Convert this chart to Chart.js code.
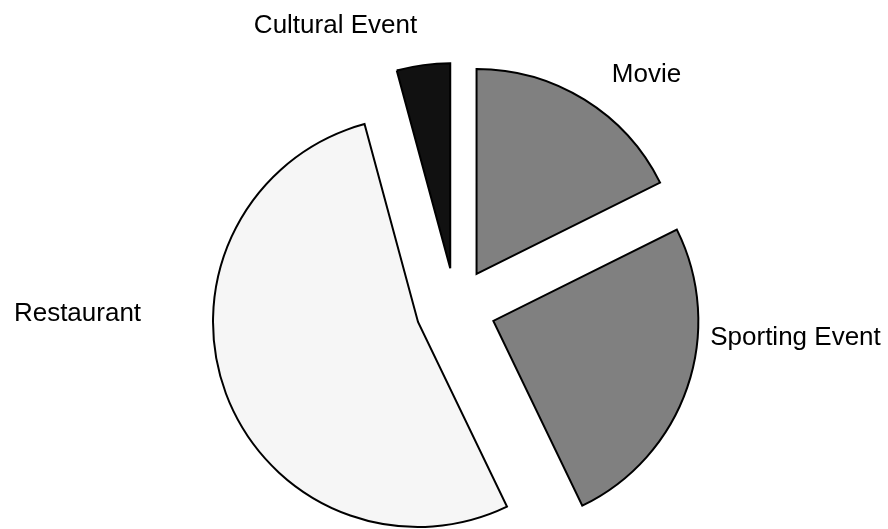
<!DOCTYPE html>
<html>
<head>
<meta charset="utf-8">
<title>Outing choices</title>
<script src="https://cdn.jsdelivr.net/npm/chart.js@4/dist/chart.umd.min.js"></script>
<style>
  html, body { margin: 0; padding: 0; background: #ffffff; }
  #wrap { width: 888px; height: 529px; }
</style>
</head>
<body>
<div id="wrap"><canvas id="pie" width="888" height="529"></canvas></div>
<script>
// Categories and how many people picked each one
const categories = ['Movie', 'Sporting Event', 'Restaurant', 'Cultural Event'];
const picks = [42, 60, 126, 10];
const sliceColors = ['#808080', '#808080', '#f6f6f6', '#111111'];

const PIE_RADIUS = 205;   // drawn radius of every slice
const EXPLODE = 40;       // how far each slice is pulled away from the centre

// Chart.js shifts an arc by offset / 4, but it also grows the arc's radius by
// (offset / 4) * (1 - sin(angle)) and trims its angle to match. Undo both so
// every slice keeps the same radius and its true share of the circle.
const evenRadius = {
  id: 'evenRadius',
  afterDatasetUpdate(chart, args) {
    args.meta.data.forEach(arc => {
      const fix = 1 - Math.sin(Math.min(Math.PI, arc.circumference || 0));
      const grow = EXPLODE * fix;
      arc.outerRadius = PIE_RADIUS - grow;
      const trim = grow / (2 * Math.PI * PIE_RADIUS);
      arc.startAngle -= trim;
      arc.endAngle += trim;
    });
  },
  // keep very sharp slice tips blunt instead of long miter spikes
  beforeDatasetsDraw(chart) {
    chart.ctx.save();
    chart.ctx.miterLimit = 4;
  },
  afterDatasetsDraw(chart) {
    chart.ctx.restore();
  }
};

// Category names, placed around the pie relative to its centre
// (x offset of the text centre, y offset of the baseline).
const labelSpots = [[191, -226], [340, 37], [-378, 13], [-120, -275]];
const sliceLabels = {
  id: 'sliceLabels',
  afterDraw(chart) {
    const meta = chart.getDatasetMeta(0);
    if (!meta.data.length) return;
    const cx = meta.data[0].x;
    const cy = meta.data[0].y;
    const ctx = chart.ctx;
    ctx.save();
    ctx.font = '26px "Liberation Sans", Arial, sans-serif';
    ctx.fillStyle = '#000000';
    ctx.textAlign = 'center';
    ctx.textBaseline = 'alphabetic';
    categories.forEach((name, i) => {
      ctx.fillText(name, cx + labelSpots[i][0], cy + labelSpots[i][1]);
    });
    ctx.restore();
  }
};

new Chart(document.getElementById('pie'), {
  type: 'pie',
  data: {
    labels: categories,
    datasets: [{
      data: picks,
      backgroundColor: sliceColors,
      borderColor: '#000000',
      borderWidth: 2,
      borderJoinStyle: 'miter',
      offset: EXPLODE * 4
    }]
  },
  options: {
    responsive: false,
    animation: false,
    events: [],
    radius: PIE_RADIUS,
    layout: { padding: { left: 23, right: 0, top: 87, bottom: 0 } },
    plugins: {
      legend: { display: false },
      tooltip: { enabled: false }
    }
  },
  plugins: [evenRadius, sliceLabels]
});
</script>
</body>
</html>
